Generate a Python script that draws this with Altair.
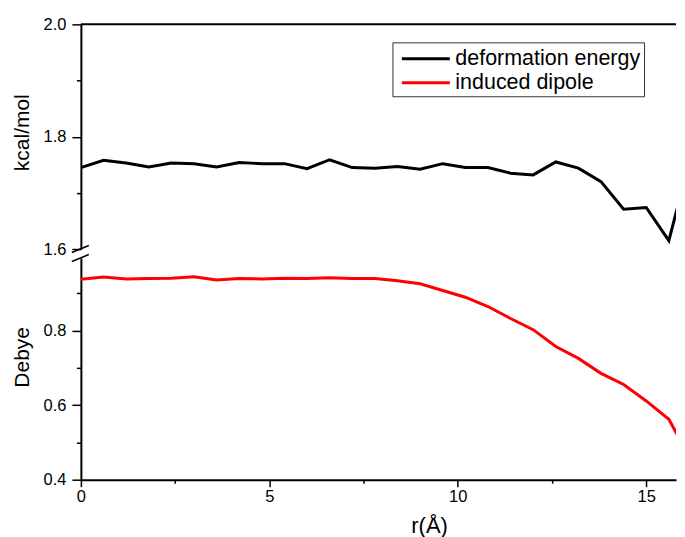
import altair as alt
import pandas as pd

# ---- data ----
r_values = [0.0, 0.6, 1.2, 1.8, 2.4, 3.0, 3.6, 4.2, 4.8, 5.4, 6.0, 6.6, 7.2, 7.8,
            8.4, 9.0, 9.6, 10.2, 10.8, 11.4, 12.0, 12.6, 13.2, 13.8, 14.4, 15.0, 15.6, 16.2]
deformation_energy = [1.745, 1.758, 1.753, 1.746, 1.753, 1.752, 1.746, 1.754, 1.752, 1.752,
                      1.743, 1.759, 1.745, 1.744, 1.747, 1.742, 1.752, 1.745, 1.745, 1.735,
                      1.732, 1.755, 1.744, 1.720, 1.671, 1.674, 1.615, 1.770]
induced_dipole = [0.937, 0.943, 0.938, 0.939, 0.940, 0.944, 0.935, 0.939, 0.938, 0.940,
                  0.939, 0.941, 0.939, 0.939, 0.933, 0.925, 0.907, 0.889, 0.864, 0.832,
                  0.802, 0.757, 0.725, 0.685, 0.655, 0.611, 0.562, 0.450]
series_names = ["deformation energy", "induced dipole"]
series_colors = ["#000000", "#ff0000"]

x_ticks = [0, 2.5, 5, 7.5, 10, 12.5, 15]
top_ticks = [1.6, 1.7, 1.8, 1.9, 2.0]
bottom_ticks = [0.4, 0.5, 0.6, 0.7, 0.8, 0.9]
top_domain = [1.6, 2.0]
bottom_domain = [0.4, 0.994]
x_domain = [0, 15.79]

FONT = "Liberation Sans"
W = 596

df_top = pd.DataFrame({"r": r_values, "value": deformation_energy, "series": series_names[0]})
df_bot = pd.DataFrame({"r": r_values, "value": induced_dipole, "series": series_names[1]})

color_scale = alt.Scale(domain=series_names, range=series_colors)
legend = alt.Legend(
    title=None, orient="none", legendX=312, legendY=18,
    labelFont=FONT, labelFontSize=21.5, labelColor="black", labelLimit=0,
    symbolType="M-2,0H2", symbolSize=576, symbolStrokeWidth=3,
    symbolOffset=17, labelOffset=16, rowPadding=0,
    strokeColor="#333333", fillColor="white", padding=3, cornerRadius=0,
)

minor_test = "round(datum.value*10) % 2 == 1"
y_label_expr = f"{minor_test} ? '' : format(datum.value, '.1f')"


def y_axis(title, ticks, title_y):
    return alt.Axis(
        title=title, values=ticks, labelExpr=y_label_expr,
        tickSize={"condition": {"test": minor_test, "value": 4.5}, "value": 9},
        labelPadding=6, labelFont=FONT, labelFontSize=16.5, labelColor="black",
        domainColor="black", domainWidth=2, tickColor="black", tickWidth=1.5,
        grid=False, titleFont=FONT, titleFontSize=21, titleFontWeight="normal",
        titleColor="black", titleX=-58, titleY=title_y, titleAngle=270,
        titleAlign="center", titleBaseline="middle",
    )


x_axis = alt.Axis(
    title="r(Å)", values=x_ticks, labelFlush=False,
    labelExpr="datum.value % 5 == 0 ? format(datum.value, 'd') : ''",
    tickSize={"condition": {"test": "datum.value % 5 != 0", "value": 3.5}, "value": 7},
    labelPadding=2, labelFont=FONT, labelFontSize=16.5, labelColor="black",
    domainColor="black", domainWidth=2, tickColor="black", tickWidth=1.5,
    grid=False, titleFont=FONT, titleFontSize=22, titleFontWeight="normal",
    titleColor="black", titleX=348.7, titleY=53, titleAlign="center",
    titleBaseline="alphabetic",
)

# ---- top panel (kcal/mol) ----
top_line = alt.Chart(df_top).mark_line(strokeWidth=3, clip=True).encode(
    x=alt.X("r:Q", scale=alt.Scale(domain=x_domain, nice=False, zero=False), axis=None),
    y=alt.Y("value:Q", scale=alt.Scale(domain=top_domain, nice=False, zero=False),
            axis=y_axis("kcal/mol", top_ticks, 108)),
    color=alt.Color("series:N", scale=color_scale, legend=legend),
)
top_frame = alt.Chart(pd.DataFrame({"v": [top_domain[1]]})).mark_rule(
    color="black", strokeWidth=2).encode(y=alt.Y("v:Q"))
top_break = alt.Chart(pd.DataFrame({"x": [-0.24], "x2": [0.21],
                                    "y": [top_domain[0] - 0.0062], "y2": [top_domain[0] + 0.0062]})
                      ).mark_rule(color="black", strokeWidth=1.5).encode(
    x="x:Q", x2="x2", y="y:Q", y2="y2")
top = alt.layer(top_line, top_frame, top_break).properties(width=W, height=225)

# ---- bottom panel (Debye) ----
bot_line = alt.Chart(df_bot).mark_line(strokeWidth=3, clip=True).encode(
    x=alt.X("r:Q", scale=alt.Scale(domain=x_domain, nice=False, zero=False), axis=x_axis),
    y=alt.Y("value:Q", scale=alt.Scale(domain=bottom_domain, nice=False, zero=False),
            axis=y_axis("Debye", bottom_ticks, 99)),
    color=alt.Color("series:N", scale=color_scale, legend=legend),
)
bot_break = alt.Chart(pd.DataFrame({"x": [-0.24], "x2": [0.21],
                                    "y": [bottom_domain[1] - 0.0093], "y2": [bottom_domain[1] + 0.0093]})
                      ).mark_rule(color="black", strokeWidth=1.5).encode(
    x="x:Q", x2="x2", y="y:Q", y2="y2")
bottom = alt.layer(bot_line, bot_break).properties(width=W, height=222)

chart = alt.vconcat(top, bottom, spacing=9, bounds="flush").properties(
    padding={"top": 8, "left": 4, "right": 0, "bottom": 0},
    background="white",
).configure_view(stroke=None)

chart.save("out.html", embed_options={"renderer": "svg", "actions": False})
